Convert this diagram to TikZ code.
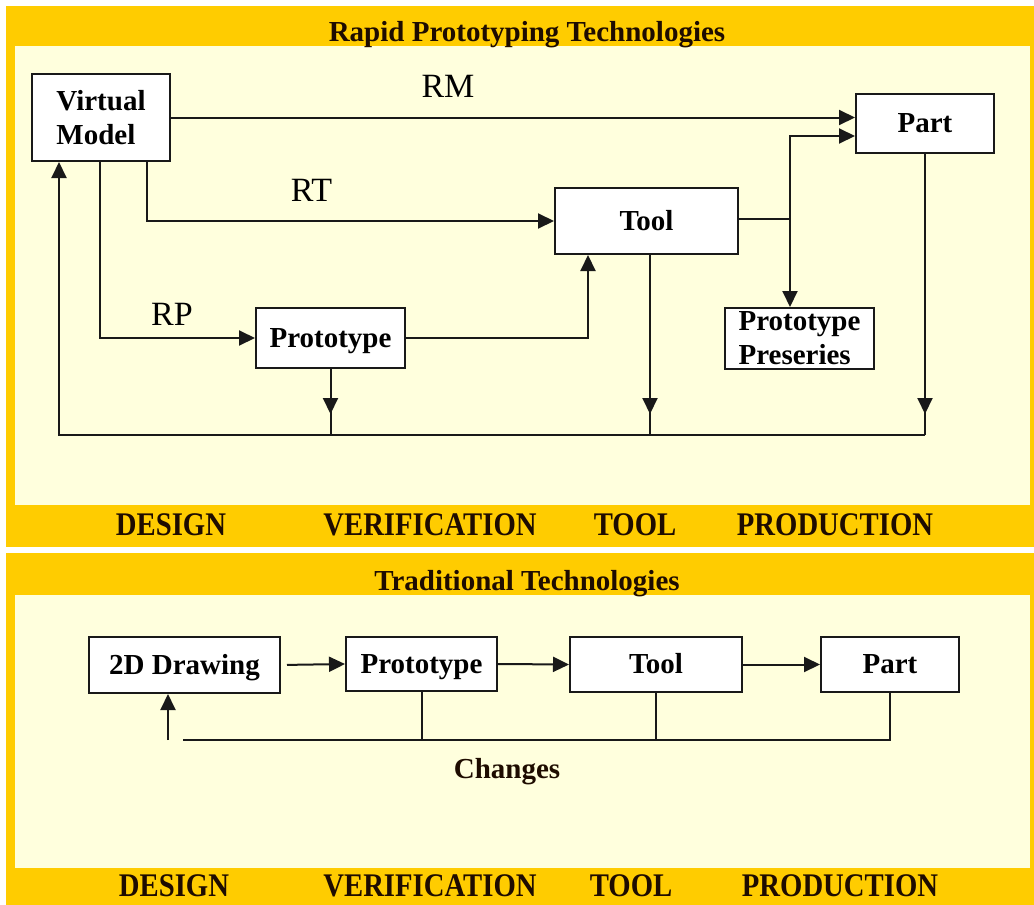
\documentclass[tikz,border=0pt]{standalone}
\usepackage{fontspec}
\setmainfont{Liberation Serif}
\newfontfamily\barfamily[FakeStretch=0.87]{Liberation Serif}
\usetikzlibrary{arrows.meta,decorations.markings}
\definecolor{gold}{HTML}{FFCC00}
\definecolor{cream}{HTML}{FFFFDD}
\definecolor{ink}{HTML}{1E0C00}
\newcommand{\boxfnt}{\fontsize{29}{34}\selectfont\bfseries}
\newcommand{\lblfnt}{\fontsize{34}{38}\selectfont}
\newcommand{\barfnt}{\barfamily\fontsize{33}{36}\selectfont\bfseries}
\tikzset{
  panel/.style={fill=gold, draw=none},
  inner/.style={fill=cream, draw=none},
  box/.style={draw=black!90, fill=white, line width=2pt, inner sep=0pt, font=\boxfnt, text=black},
  sbox/.style={box, text height=20pt, text depth=2pt},
  conn/.style={line width=2pt, draw=black!90},
  arr/.style={conn, -{Triangle[length=16pt,width=15pt]}},
  midarr/.style={conn, postaction={decorate}, decoration={markings, mark=at position -21pt with {\arrow{Triangle[length=16pt,width=15pt]}}}},
  ttl/.style={font=\boxfnt, text=ink, anchor=base, inner sep=0pt},
  lbl/.style={font=\lblfnt, text=black, anchor=base, inner sep=0pt},
  barlbl/.style={font=\barfnt, text=ink, anchor=base, inner sep=0pt},
}
\begin{document}
\begin{tikzpicture}[x=1pt,y=-1pt]
\useasboundingbox (0,0) rectangle (1034,905);
\fill[white] (0,0) rectangle (1034,905);
% panels
\fill[panel] (6,6) rectangle (1034,547);
\fill[inner] (15,46) rectangle (1030,505);
\fill[panel] (6,553) rectangle (1034,905);
\fill[inner] (15,595) rectangle (1030,868);
% titles
\node[ttl] (title1) at (527,41) {Rapid Prototyping Technologies};
\node[ttl] (title2) at (527,590) {Traditional Technologies};
% phase labels
\node[barlbl] (d1) at (171,535) {DESIGN};
\node[barlbl] (v1) at (430,535) {VERIFICATION};
\node[barlbl] (o1) at (635,535) {TOOL};
\node[barlbl] (p1) at (835,535) {PRODUCTION};
\node[barlbl] (d2l) at (174,896) {DESIGN};
\node[barlbl] (v2) at (430,896) {VERIFICATION};
\node[barlbl] (o2) at (631,896) {TOOL};
\node[barlbl] (p2) at (840,896) {PRODUCTION};
% top nodes
\node[box, minimum width=138pt, minimum height=87pt, align=left] (vm) at (101,117.5) {Virtual\\Model};
\node[sbox, minimum width=138pt, minimum height=59pt] (part) at (925,123.5) {Part};
\node[sbox, minimum width=183pt, minimum height=66pt] (tool) at (646.5,221) {Tool};
\node[sbox, minimum width=149pt, minimum height=60pt] (proto) at (330.5,338) {Prototype};
\node[box, minimum width=149pt, minimum height=61pt, align=left] (pres) at (799.5,338.5) {Prototype\\Preseries};
% labels
\node[lbl] (rm) at (448,97) {RM};
\node[lbl] (rt) at (311.5,201) {RT};
\node[lbl] (rp) at (172,325) {RP};
% top connectors
\coordinate (base) at (59,435);
\coordinate (j) at (790,219);
\draw[arr] (vm.east) -- (vm.east -| part.west);
\draw[arr] ([xshift=46pt]vm.south) |- (tool.west);
\draw[arr] ([xshift=-1pt]vm.south) |- (proto.west);
\draw[arr] (proto.east) -| ([xshift=-58.5pt]tool.south);
\draw[conn] (tool.east |- j) -- (j);
\draw[arr] (j) |- ([yshift=-12.5pt]part.west);
\draw[arr] (j) -- (j |- pres.north);
\draw[midarr] (proto.south) -- (proto.south |- base);
\draw[midarr] ([xshift=3.5pt]tool.south) -- ([xshift=3.5pt]tool.south |- base);
\draw[midarr] (part.south) -- (part.south |- base);
\draw[arr] (part.south |- base) -- (base) -- ([xshift=-42pt]vm.south);
% bottom nodes
\node[sbox, minimum width=191pt, minimum height=56pt] (d2) at (184.5,665) {2D Drawing};
\node[sbox, minimum width=151pt, minimum height=54pt] (proto2) at (421.5,664) {Prototype};
\node[sbox, minimum width=172pt, minimum height=55pt] (tool2) at (656,664.5) {Tool};
\node[sbox, minimum width=138pt, minimum height=55pt] (part2) at (890,664.5) {Part};
\node[ttl] (chg) at (507,778) {Changes};
% bottom connectors
\coordinate (ch) at (183,740);
\coordinate (ca) at (168,740);
\draw[arr, shorten <=6pt] (d2.east) -- (proto2.west);
\draw[arr] (proto2.east) -- (tool2.west);
\draw[arr] (tool2.east) -- (part2.west);
\draw[conn] (proto2.south) -- (proto2.south |- ch);
\draw[conn] (tool2.south) -- (tool2.south |- ch);
\draw[conn] (part2.south) -- (part2.south |- ch) -- (ch);
\draw[arr] (ca) -- (ca |- d2.south);
\end{tikzpicture}
\end{document}
